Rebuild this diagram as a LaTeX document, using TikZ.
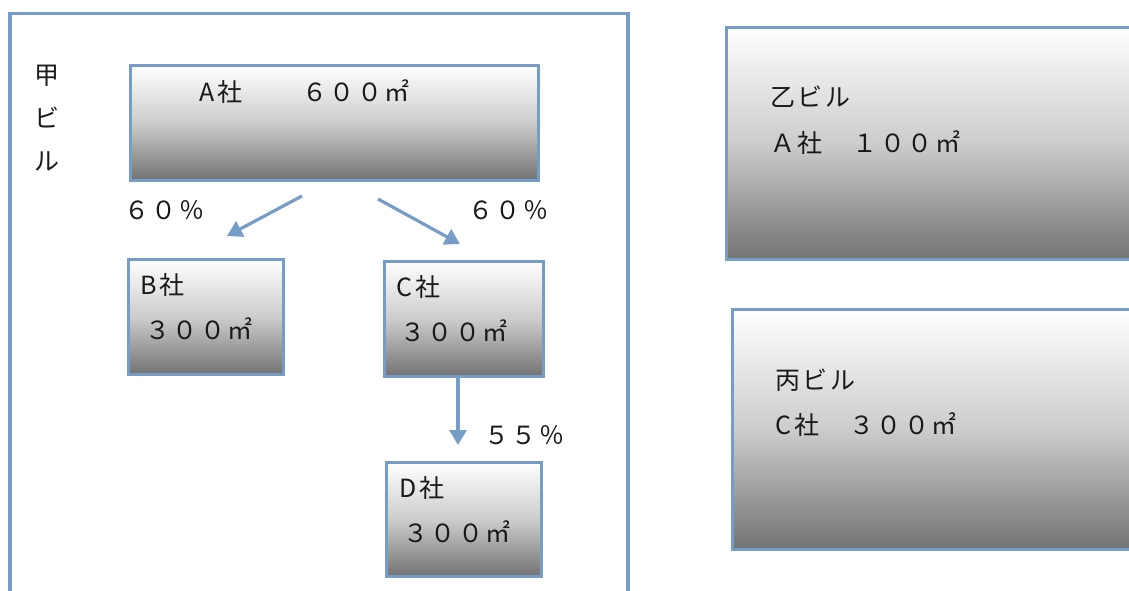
\documentclass[tikz,border=0pt]{standalone}
\usepackage{fontspec}
\newfontfamily\cjk[LetterSpace=10]{Noto Sans CJK JP}
\usetikzlibrary{arrows.meta}
\definecolor{bl}{RGB}{118,157,200}
\tikzset{
  gbox/.style={draw=bl, line width=3.8pt, top color=white, bottom color=black!55, middle color=black!20, inner sep=0pt, anchor=north west},
  lbl/.style={inner sep=0pt, anchor=west, font=\cjk\fontsize{25}{25}\selectfont, text=black!90},
  conn/.style={draw=bl, line width=3.2pt, -{Triangle[length=15pt,width=17pt]}},
  frame/.style={draw=bl, line width=3.2pt}
}
\begin{document}
\begin{tikzpicture}[x=1pt,y=-1pt]
\useasboundingbox (0,0) rectangle (1129,590);
\clip (0,0) rectangle (1129,590);
% outer frame of 甲ビル
\draw[frame] (10,600) -- (10,13.5) -- (628,13.5) -- (628,600);
% boxes
\node[gbox, minimum width=408pt, minimum height=115pt] (A) at (128.5,63.5) {};
\node[gbox, minimum width=155pt, minimum height=115pt] (B) at (126.5,257.5) {};
\node[gbox, minimum width=159pt, minimum height=115pt] (C) at (382.5,259.5) {};
\node[gbox, minimum width=155pt, minimum height=114pt] (D) at (384.5,460.5) {};
\node[gbox, minimum width=430pt, minimum height=232pt] (OTSU) at (724.5,25.5) {};
\node[gbox, minimum width=420pt, minimum height=240pt] (HEI) at (730.5,307.5) {};
% texts
\node[lbl, anchor=center, align=center] (kou) at (47,118) {甲\\[18pt]ビ\\[18pt]ル};
\node[lbl] (Atxt) at (199,92) {A\hspace{3pt}社\hspace{60pt}６００㎡};
\node[lbl] (p1) at (124,210) {６０％};
\node[lbl] (p2) at (468,210) {６０％};
\node[lbl] (p3) at (484,435) {５５％};
\node[lbl] (Bt1) at (140,285) {B\hspace{3pt}社};
\node[lbl] (Bt2) at (145,329) {３００㎡};
\node[lbl] (Ct1) at (396,287) {C\hspace{3pt}社};
\node[lbl] (Ct2) at (400,331) {３００㎡};
\node[lbl] (Dt1) at (399,488) {D\hspace{3pt}社};
\node[lbl] (Dt2) at (403,532) {３００㎡};
\node[lbl] (Ot1) at (770,97) {乙ビル};
\node[lbl] (Ot2) at (770,143) {Ａ社　１００㎡};
\node[lbl] (Ht1) at (775,380) {丙ビル};
\node[lbl] (Ht2) at (775,425) {C\hspace{3pt}社　３００㎡};
% connectors
\coordinate (a1s) at (302,196);
\coordinate (a1e) at (227,236);
\coordinate (a2s) at (378,199);
\coordinate (a2e) at (460,244);
\coordinate (c3e) at (458,445);
\draw[conn] (c3e |- C.south) -- (c3e);
\draw[conn] (a1s) -- (a1e);
\draw[conn] (a2s) -- (a2e);
\end{tikzpicture}
\end{document}
